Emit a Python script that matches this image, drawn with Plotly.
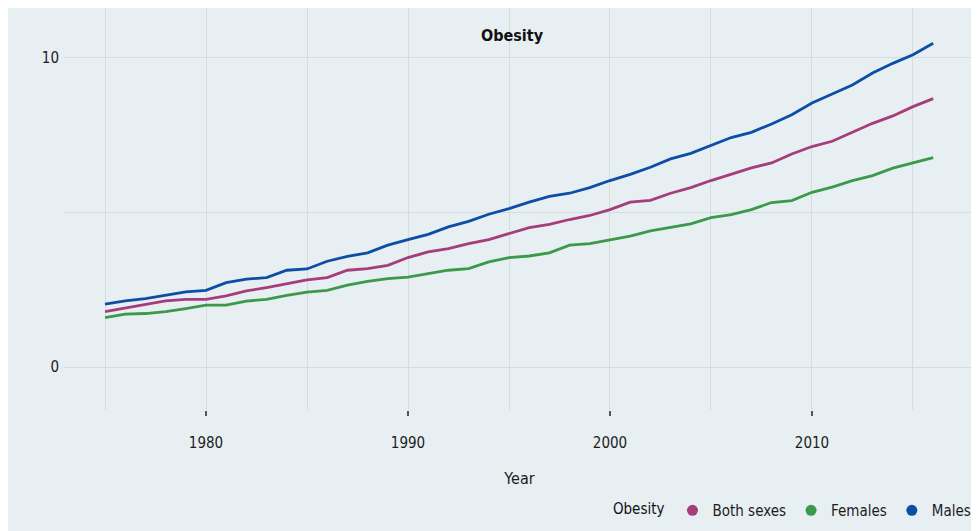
import plotly.graph_objects as go

years = list(range(1975, 2017))

both_sexes = [1.79, 1.91, 2.03, 2.14, 2.19, 2.19, 2.30, 2.46, 2.57, 2.70,
              2.82, 2.89, 3.13, 3.18, 3.29, 3.54, 3.72, 3.83, 3.99, 4.12,
              4.31, 4.51, 4.61, 4.77, 4.90, 5.09, 5.33, 5.39, 5.62, 5.80,
              6.03, 6.23, 6.44, 6.60, 6.89, 7.13, 7.30, 7.59, 7.88, 8.12,
              8.42, 8.68]
females = [1.60, 1.71, 1.73, 1.79, 1.89, 2.00, 2.00, 2.13, 2.19, 2.32,
           2.42, 2.48, 2.65, 2.77, 2.86, 2.91, 3.02, 3.13, 3.18, 3.40,
           3.54, 3.59, 3.69, 3.94, 3.99, 4.12, 4.23, 4.40, 4.51, 4.63,
           4.83, 4.93, 5.09, 5.32, 5.38, 5.65, 5.82, 6.03, 6.19, 6.43,
           6.60, 6.77]
males = [2.03, 2.14, 2.21, 2.32, 2.43, 2.48, 2.73, 2.84, 2.89, 3.13,
         3.17, 3.42, 3.58, 3.69, 3.94, 4.12, 4.29, 4.53, 4.71, 4.94,
         5.12, 5.33, 5.52, 5.62, 5.80, 6.03, 6.23, 6.46, 6.73, 6.91,
         7.16, 7.42, 7.59, 7.86, 8.16, 8.54, 8.83, 9.12, 9.51, 9.82,
         10.10, 10.47]

series_names = ["Both sexes", "Females", "Males"]
series_values = [both_sexes, females, males]
series_colors = ["#a63d7b", "#3b9a49", "#0c4ea6"]

x_tickvals = [1980, 1990, 2000, 2010]
y_tickvals = [0, 10]

FONT = "DejaVu Sans Condensed, Liberation Sans Narrow, sans-serif"
BG = "#e8eff3"

fig = go.Figure()
for name, vals, col in zip(series_names, series_values, series_colors):
    fig.add_trace(go.Scatter(x=years, y=vals, mode="lines", name=name,
                             line=dict(color=col, width=2.8),
                             showlegend=False, hoverinfo="x+y+name"))
for name, col in zip(series_names, series_colors):
    fig.add_trace(go.Scatter(x=[None], y=[None], mode="markers", name=name,
                             marker=dict(color=col, size=11, symbol="circle")))

fig.update_layout(
    width=979, height=531,
    margin=dict(l=56, r=12, t=0, b=129, autoexpand=False),
    paper_bgcolor=BG,
    plot_bgcolor=BG,
    font=dict(family=FONT, size=15, color="#1c1c1c"),
    title=dict(text="<b>Obesity</b>", x=0.4918, xref="paper", xanchor="center",
               y=0.949, yref="container", yanchor="middle",
               font=dict(family=FONT, size=16, color="#111111")),
    showlegend=True,
    legend=dict(orientation="h", x=1.001, xanchor="right", y=-0.209, yanchor="top",
                bgcolor="rgba(0,0,0,0)",
                title=dict(text="Obesity", font=dict(family=FONT, size=15, color="#111111")),
                font=dict(family=FONT, size=15, color="#1c1c1c"),
                itemwidth=30, tracegroupgap=0),
    xaxis=dict(range=[1972.97, 2018.07], tickvals=x_tickvals,
               ticks="outside", ticklen=5, tickwidth=1.5, tickcolor="#555555",
               ticklabelstandoff=14,
               showgrid=True, gridcolor="#d6dbde", gridwidth=1.3,
               minor=dict(dtick=5, tick0=1975, showgrid=True, gridcolor="#d6dbde",
                          gridwidth=1.3, ticks=""),
               zeroline=False, showline=False, automargin=False,
               title=dict(text="Year", standoff=21, font=dict(family=FONT, size=16))),
    yaxis=dict(range=[-1.39, 11.61], tickvals=y_tickvals, ticks="",
               ticklabelstandoff=4,
               showgrid=True, gridcolor="#d6dbde", gridwidth=1.3,
               minor=dict(dtick=5, tick0=0, showgrid=True, gridcolor="#d6dbde",
                          gridwidth=1.3),
               zeroline=False, showline=False, title=None, automargin=False),
)

fig.write_html("out.html")
